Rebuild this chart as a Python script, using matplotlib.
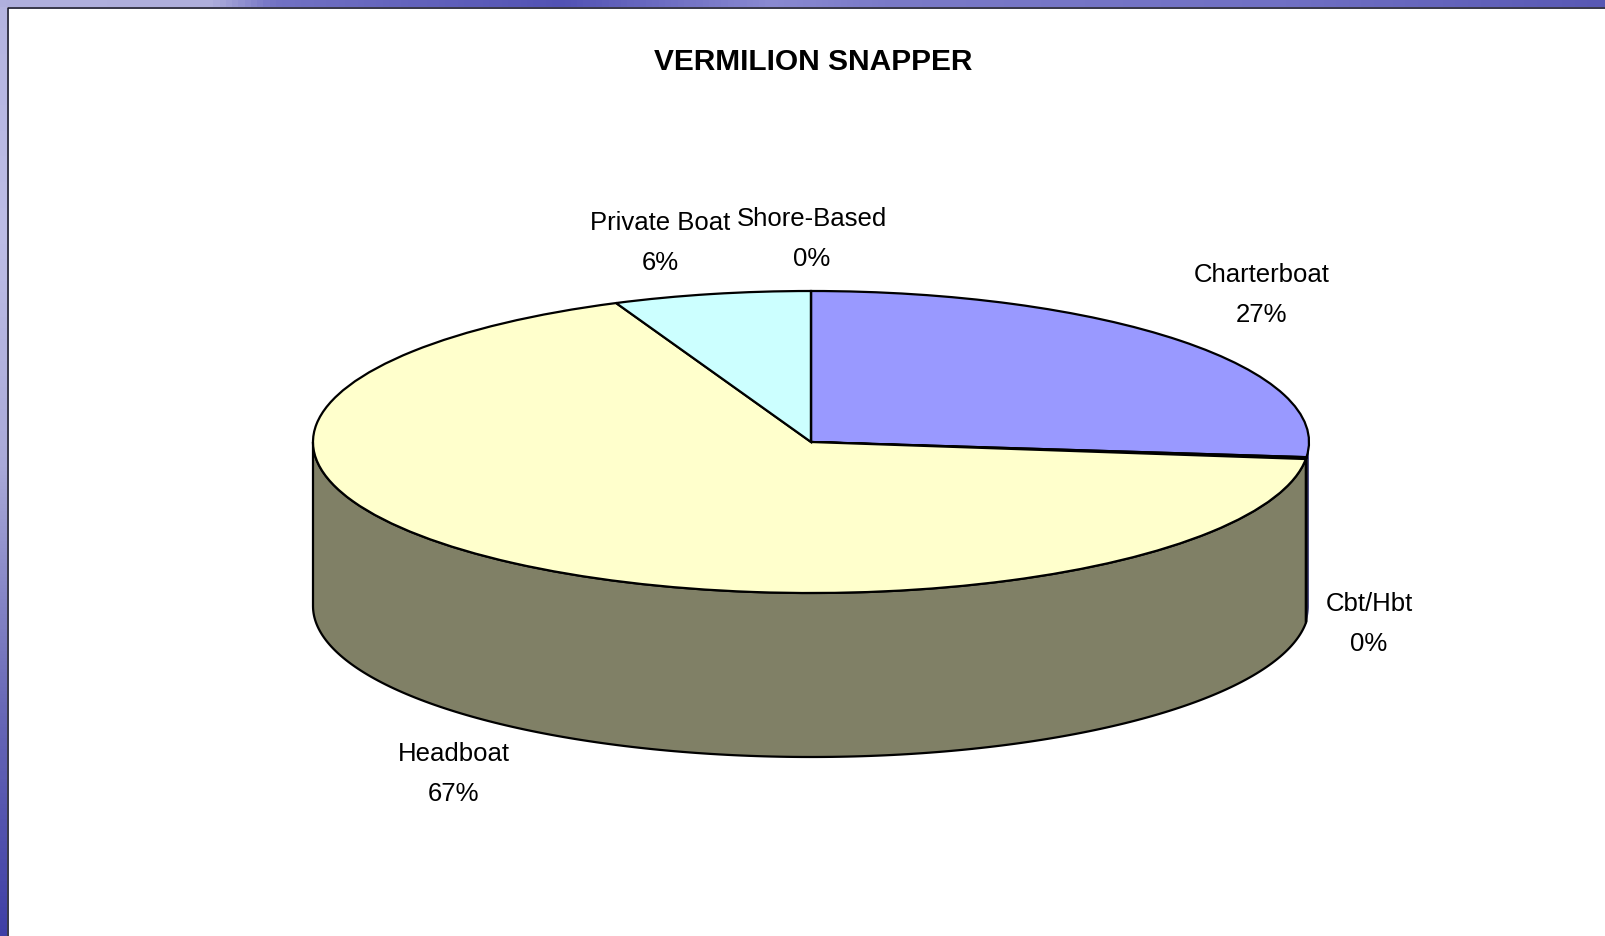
import numpy as np
import matplotlib
matplotlib.use("Agg")
import matplotlib.pyplot as plt
from matplotlib.colors import LinearSegmentedColormap

categories = ["Charterboat", "Cbt/Hbt", "Headboat", "Private Boat", "Shore-Based"]
values = [26.6, 0.2, 66.8, 6.4, 0.0]
percent_labels = ["27%", "0%", "67%", "6%", "0%"]
top_colors = ["#9999FF", "#660066", "#FFFFCC", "#CCFFFF", "#FF8080"]
side_colors = ["#4C4C80", "#330033", "#808066", "#668080", "#804040"]
label_centers_px = [(1262, 295), (1369, 624), (454, 774), (660, 243), (812, 239)]
title = "VERMILION SNAPPER"

W, H = 1606, 937
CX, CY, RX, RY, DEPTH = 811, 443, 498, 151, 164

plt.rcParams["font.family"] = ["Liberation Sans", "DejaVu Sans"]
label_size = 18.5
title_size = 21.5

fig = plt.figure(figsize=(W / 100, H / 100), dpi=100, facecolor="white")

# slide background strips
bg = fig.add_axes([0, 0, 1, 1], zorder=0)
bg.set_axis_off()
left_map = LinearSegmentedColormap.from_list(
    "l", ["#B4B4E0", "#BDBDE6", "#A9A9D8", "#6A6AB8", "#3F3FA6"])
top_map = LinearSegmentedColormap.from_list(
    "t", [(0, "#B0B0DE"), (0.13, "#AEAEDC"), (0.17, "#7272C4"), (0.35, "#5252B4"),
          (0.48, "#8A8AD2"), (0.55, "#7A7AC8"), (0.8, "#7070C4"), (1, "#5858B4")])
bg.imshow(np.linspace(0, 1, 256)[:, None], cmap=left_map, extent=(0, 7, H, 0), aspect="auto")
bg.imshow(np.linspace(0, 1, 256)[None, :], cmap=top_map, extent=(0, W, 8, 0), aspect="auto")
bg.plot([8, 8, W], [H, 8.5, 8.5], color="#14142A", lw=1.2, solid_capstyle="butt")
bg.set_xlim(0, W)
bg.set_ylim(H, 0)

# pie: radius 1 unit = RX px horizontally and RY px vertically
ax = fig.add_axes([0, 0, 1, 1], zorder=1)
ax.patch.set_alpha(0)
frac = np.array(values) / sum(values)
edges = np.concatenate([[0], np.cumsum(frac)]) * 2 * np.pi  # clockwise from top
d = DEPTH / RY

for i in range(len(values)):
    a0 = max(edges[i], np.pi / 2)
    a1 = min(edges[i + 1], 3 * np.pi / 2)
    if a1 <= a0:
        continue
    t = np.linspace(a0, a1, 200)
    x, y = np.sin(t), np.cos(t)
    # the first slice only shows as a thin sliver, drawn without an outline
    outlined = i != 0
    ax.fill(np.r_[x, x[::-1]], np.r_[y, y[::-1] - d], facecolor=side_colors[i],
            edgecolor="black" if outlined else "none", lw=1.6 if outlined else 0,
            zorder=1)

ax.pie(values, colors=top_colors, startangle=90, counterclock=False, radius=1,
       wedgeprops=dict(edgecolor="black", linewidth=1.6))
ax.set_aspect("auto")
ax.set_xlim(-CX / RX, (W - CX) / RX)
ax.set_ylim((CY - H) / RY, CY / RY)
ax.set_axis_off()


def to_data(px, py):
    return (px - CX) / RX, (CY - py) / RY


for name, pct, (px, py) in zip(categories, percent_labels, label_centers_px):
    x, y = to_data(px, py)
    ax.text(x, y, f"{name}\n{pct}", ha="center", va="center", fontsize=label_size,
            linespacing=1.8, color="black", zorder=5)

tx, ty = to_data(813, 62)
ax.text(tx, ty, title, ha="center", va="center", fontsize=title_size, fontweight="bold",
        color="black", zorder=5)

fig.savefig("out.png", dpi=100)
